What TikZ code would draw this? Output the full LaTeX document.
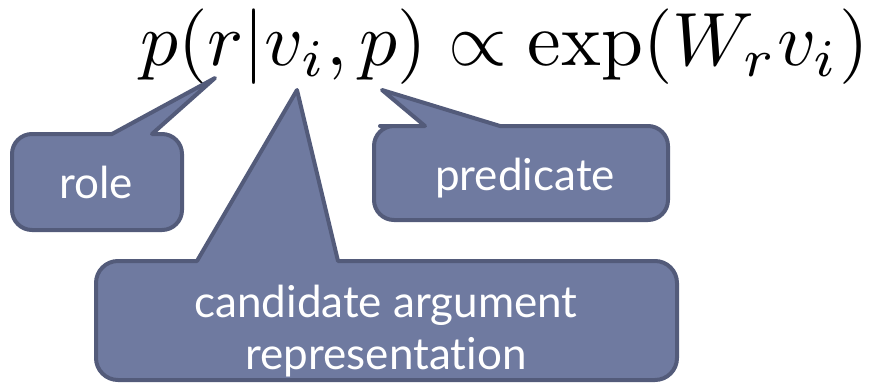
\documentclass[tikz,border=0pt]{standalone}
\usepackage{fontspec}
\usepackage{graphicx}
\setsansfont{Lato}[Ligatures=NoCommon]
\definecolor{callfill}{RGB}{111,122,160}
\definecolor{calldraw}{RGB}{83,91,122}
\begin{document}
\begin{tikzpicture}[x=1pt,y=-1pt,
  callout/.style={fill=callfill,draw=calldraw,line width=4pt,line join=round},
  calltext/.style={text=white,font=\sffamily\fontsize{44}{52}\selectfont,inner sep=0pt,align=center}]
\useasboundingbox (0,0) rectangle (884,383);
% formula
\node[anchor=base west,inner sep=0pt] (formula) at (140,65)
  {\resizebox{728pt}{!}{$p(r|v_i,p)\propto\exp(W_rv_i)$}};
% pointer tips
\coordinate (tipr) at (215,78);
\coordinate (tipv) at (297,90);
\coordinate (tipp) at (382,90);
% role callout
\draw[callout] (12,182) [rounded corners=20pt] -- (12,134) -- (60,134)
  [sharp corners] -- (112,134) -- (tipr) -- (152,134) -- (160,134)
  [rounded corners=20pt] -- (182,134) -- (182,230) -- (12,230) -- cycle;
% predicate callout
\draw[callout] (374,173) [rounded corners=20pt] -- (374,126) -- (400,126)
  [sharp corners] -- (425,126) -- (tipp) -- (500,126) -- (560,126)
  [rounded corners=20pt] -- (668,126) -- (668,220) -- (374,220) -- cycle;
% candidate callout
\draw[callout] (96,320) [rounded corners=22pt] -- (96,261) -- (150,261)
  [sharp corners] -- (197,261) -- (tipv) -- (338,261) -- (400,261)
  [rounded corners=22pt] -- (677,261) -- (677,380) -- (96,380) -- cycle;
% texts
\node[calltext,anchor=base] (role) at (96,198) {role};
\node[calltext,anchor=base] (pred) at (525,190) {predicate};
\node[calltext,anchor=base] (cand) at (386,369) {candidate argument\\representation};
\end{tikzpicture}
\end{document}
